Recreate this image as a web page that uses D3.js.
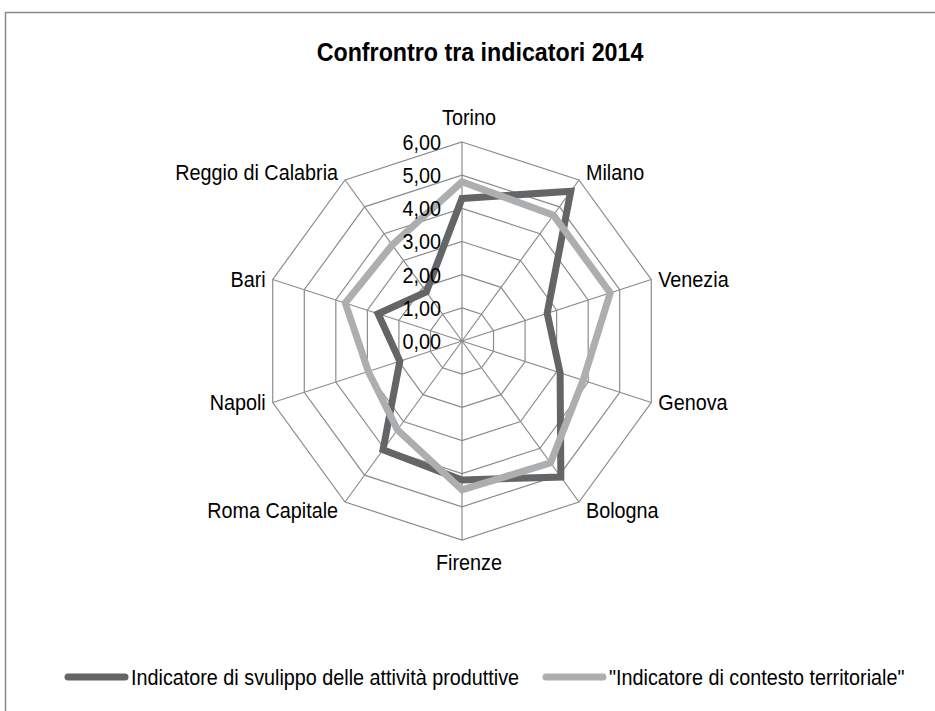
<!DOCTYPE html>
<html>
<head>
<meta charset="utf-8">
<script src="https://cdnjs.cloudflare.com/ajax/libs/d3/7.8.5/d3.min.js"></script>
<style>
  body { margin: 0; background: #fff; }
  text { font-family: "Liberation Sans", Arial, sans-serif; fill: #000; }
</style>
</head>
<body>
<div id="chart"></div>
<script>
// data
var cities = ["Torino", "Milano", "Venezia", "Genova", "Bologna", "Firenze",
  "Roma Capitale", "Napoli", "Bari", "Reggio di Calabria"];
var sviluppo = [4.30, 5.58, 2.70, 3.11, 5.07, 4.19, 4.05, 1.97, 2.66, 1.83];
var contesto = [4.80, 4.69, 4.70, 3.84, 4.54, 4.49, 3.31, 2.97, 3.70, 3.58];
var ticks = [0, 1, 2, 3, 4, 5, 6];
var seriesNames = ["Indicatore di svulippo delle attività produttive", "\"Indicatore di contesto territoriale\""];
var seriesColors = ["#646567", "#adaeb0"];

var width = 935, height = 711;
var cx = 462, cy = 341, radius = 199;
var narrow = 0.9; // the original font is a condensed one

var svg = d3.select("#chart")
  .append("svg")
    .attr("width", width)
    .attr("height", height);

// chart border
svg.append("rect")
  .attr("x", 5.5).attr("y", 12.5)
  .attr("width", 940).attr("height", 720)
  .attr("fill", "none")
  .attr("stroke", "#8a8a8a")
  .attr("stroke-width", 1.5);

svg.append("text")
  .attr("transform", "translate(480,61) scale(0.93,1)")
  .attr("text-anchor", "middle")
  .style("font-size", "25px")
  .style("font-weight", "bold")
  .text("Confrontro tra indicatori 2014");

var r = d3.scaleLinear().domain([0, 6]).range([0, radius]);
var angle = d3.scaleLinear().domain([0, cities.length]).range([0, 2 * Math.PI]);

var g = svg.append("g").attr("transform", "translate(" + cx + "," + cy + ")");

function pt(i, v) {
  var a = angle(i);
  return [r(v) * Math.sin(a), -r(v) * Math.cos(a)];
}

// rings
var ring = d3.line().curve(d3.curveLinearClosed);
g.selectAll(".ring")
  .data(ticks.slice(1))
  .enter()
  .append("path")
    .attr("class", "ring")
    .attr("d", function(t) { return ring(cities.map(function(c, i) { return pt(i, t); })); })
    .attr("fill", "none")
    .attr("stroke", "#8c8c8c")
    .attr("stroke-width", 1.2);

// spokes
g.selectAll(".spoke")
  .data(cities)
  .enter()
  .append("line")
    .attr("class", "spoke")
    .attr("x1", 0).attr("y1", 0)
    .attr("x2", function(d, i) { return pt(i, 6)[0]; })
    .attr("y2", function(d, i) { return pt(i, 6)[1]; })
    .attr("stroke", "#8c8c8c")
    .attr("stroke-width", 1.2);

// series
var seriesData = [sviluppo, contesto];
g.selectAll(".serie")
  .data(seriesData)
  .enter()
  .append("path")
    .attr("class", "serie")
    .attr("d", function(vals) { return ring(vals.map(function(v, i) { return pt(i, v); })); })
    .attr("fill", "none")
    .attr("stroke", function(d, i) { return seriesColors[i]; })
    .attr("stroke-width", 7)
    .attr("stroke-linejoin", "miter");

// tick labels
g.selectAll(".tick")
  .data(ticks)
  .enter()
  .append("text")
    .attr("class", "tick")
    .attr("transform", function(t) { return "translate(-21," + (-r(t)) + ") scale(" + narrow + ",1)"; })
    .attr("dy", "0.36em")
    .attr("text-anchor", "end")
    .style("font-size", "22px")
    .text(function(t) { return d3.format(".2f")(t).replace(".", ","); });

// city labels
g.selectAll(".city")
  .data(cities)
  .enter()
  .append("text")
    .attr("class", "city")
    .attr("transform", function(d, i) {
      var p = pt(i, 6), s = Math.sin(angle(i)), c = Math.cos(angle(i));
      var x = s > 0.1 ? p[0] + 7 : (s < -0.1 ? p[0] - 7 : p[0] + 7);
      var y = p[1];
      if (c > 0.9) y = p[1] - 25;
      else if (c < -0.9) y = p[1] + 22;
      else if (c > 0.5) y = p[1] - 8;
      else if (c < -0.5) y = p[1] + 8;
      return "translate(" + x + "," + y + ") scale(" + narrow + ",1)";
    })
    .attr("dy", "0.36em")
    .attr("text-anchor", function(d, i) {
      var s = Math.sin(angle(i));
      return s > 0.1 ? "start" : (s < -0.1 ? "end" : "middle");
    })
    .style("font-size", "22px")
    .text(function(d) { return d; });

// legend
var legendX = [65, 543];
var legend = svg.selectAll(".legend")
  .data(seriesNames)
  .enter()
  .append("g")
    .attr("class", "legend")
    .attr("transform", function(d, i) { return "translate(" + legendX[i] + ",677)"; });

legend.append("line")
  .attr("x1", 3).attr("x2", 60)
  .attr("stroke", function(d, i) { return seriesColors[i]; })
  .attr("stroke-width", 7)
  .attr("stroke-linecap", "round");

legend.append("text")
  .attr("transform", "translate(66,0) scale(" + narrow + ",1)")
  .attr("dy", "0.36em")
  .style("font-size", "22px")
  .text(function(d) { return d; });
</script>
</body>
</html>
